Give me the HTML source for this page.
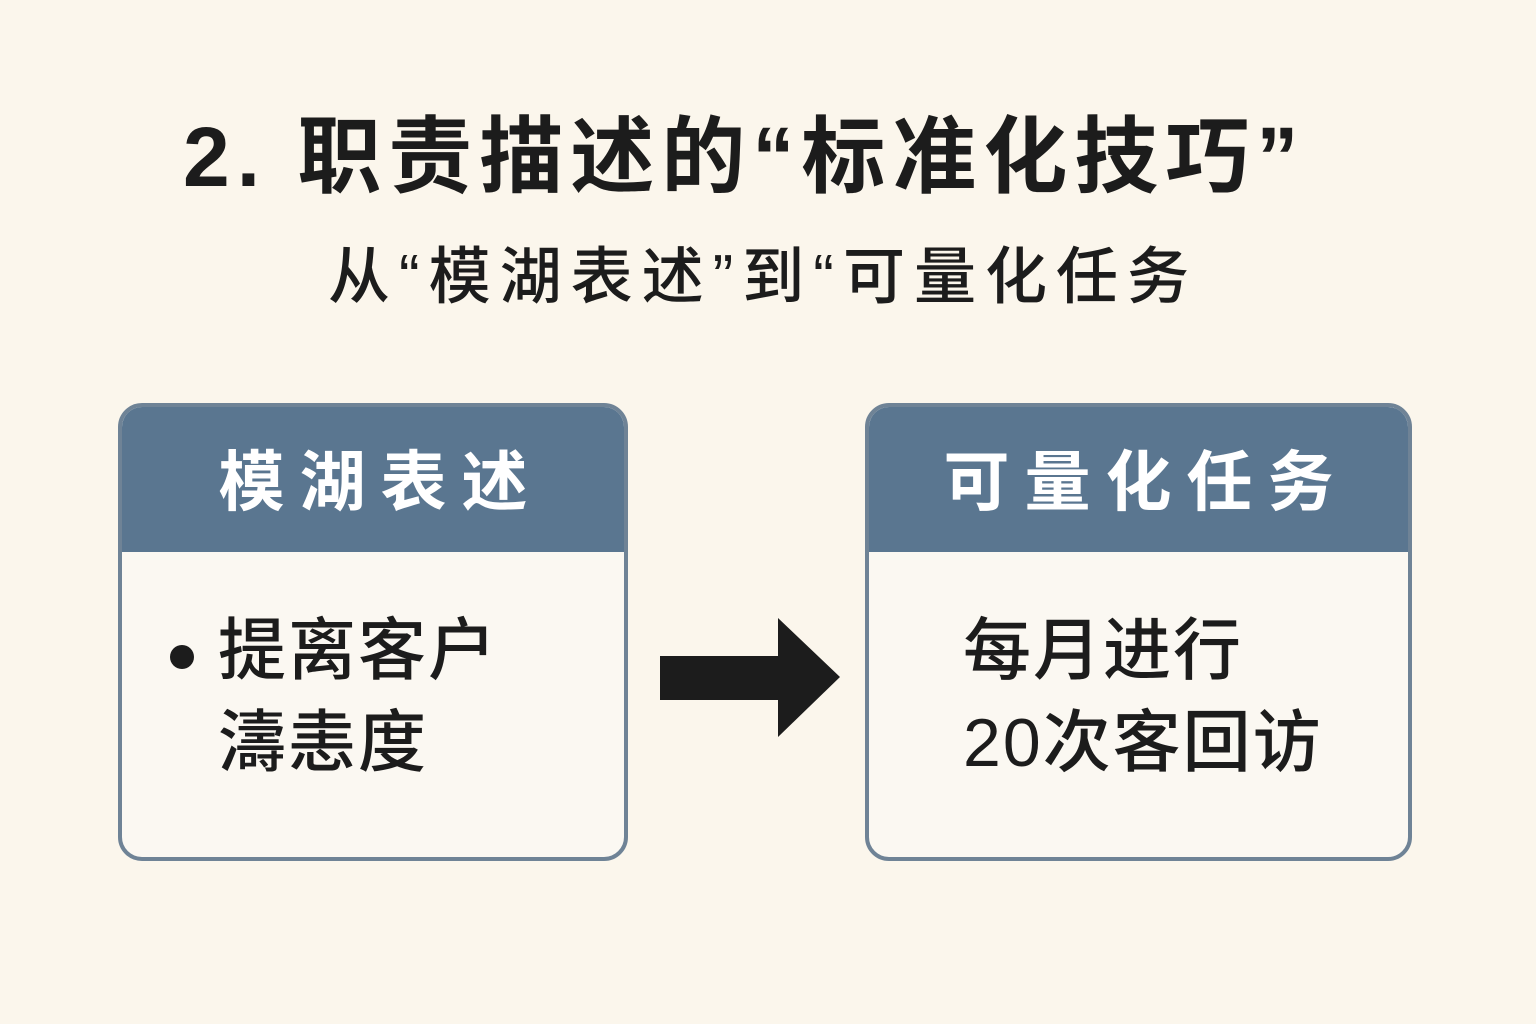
<!DOCTYPE html>
<html><head><meta charset="utf-8">
<style>
html,body{margin:0;padding:0}
body{width:1536px;height:1024px;background:#fbf6ec;position:relative;overflow:hidden;font-family:"Liberation Sans","Noto Sans CJK SC",sans-serif;color:#1c1c1c}
.t{position:absolute;white-space:nowrap}
.box{position:absolute;top:403px;height:458px;border:4px solid #6f8396;border-radius:24px;background:#fbf8f2;overflow:hidden;box-sizing:border-box}
.hd{position:absolute;left:0;right:0;top:0;height:145px;background:#5a7690;color:#fff;font-weight:bold;font-size:66px;text-align:center;line-height:150px;letter-spacing:15px;text-indent:15px}
.bd{position:absolute;font-size:68px;line-height:92px;font-weight:500;letter-spacing:2px}
</style></head><body>
<div class="t" style="left:183px;top:90px;font-size:84px;font-weight:bold;letter-spacing:7px">2. 职责描述的“标准化技巧”</div>
<div class="t" style="left:328px;top:226px;font-size:62px;font-weight:500;letter-spacing:9px">从“模湖表述”到“可量化任务</div>

<div class="box" style="left:118px;width:510px">
  <div class="hd">模湖表述</div>
  <div style="position:absolute;left:48px;top:238px;width:24px;height:24px;border-radius:50%;background:#1c1c1c"></div>
  <div class="bd" style="left:96px;top:198px">提离客户<br>濤恚度</div>
</div>

<div class="box" style="left:865px;width:547px">
  <div class="hd">可量化任务</div>
  <div class="bd" style="left:94px;top:198px">每月进行<br>20次客回访</div>
</div>

<svg class="t" style="left:0;top:0" width="1536" height="1024">
  <polygon points="660,656 778,656 778,618 840,677 778,737 778,700 660,700" fill="#1c1c1c"/>
</svg>
</body></html>
